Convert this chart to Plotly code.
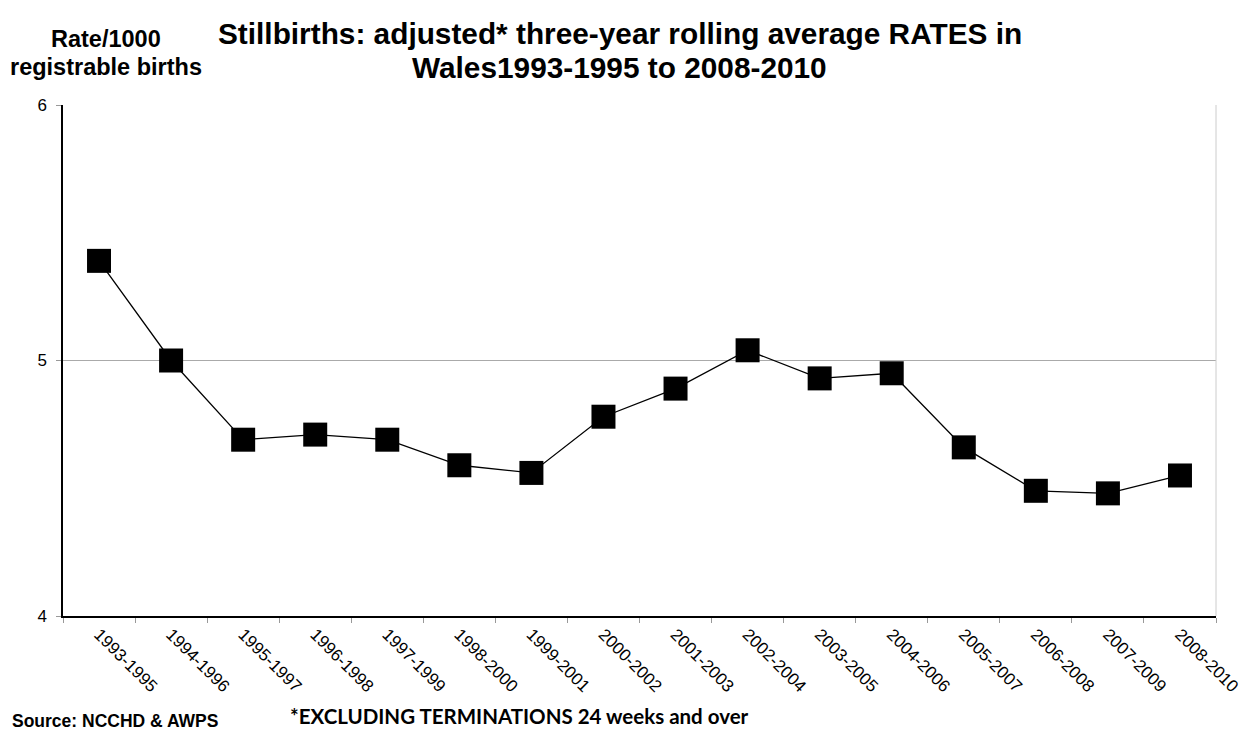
import plotly.graph_objects as go

periods = ["1993-1995", "1994-1996", "1995-1997", "1996-1998", "1997-1999",
           "1998-2000", "1999-2001", "2000-2002", "2001-2003", "2002-2004",
           "2003-2005", "2004-2006", "2005-2007", "2006-2008", "2007-2009",
           "2008-2010"]
rates = [5.39, 5.00, 4.69, 4.71, 4.69, 4.59, 4.56, 4.78, 4.89, 5.04,
         4.93, 4.95, 4.66, 4.49, 4.48, 4.55]
y_ticks = [4, 5, 6]

arial = "Arial, Liberation Sans, sans-serif"


def text_note(text, x, yref_y, shift, size, anchor="center", family=arial):
    return dict(text=text, xref="paper", yref="paper", x=x, y=yref_y,
                yshift=shift, xanchor=anchor, yanchor="middle",
                showarrow=False, font=dict(family=family, size=size))


fig = go.Figure()
fig.add_trace(go.Scatter(
    x=periods, y=rates, mode="lines+markers",
    line=dict(color="black", width=1.3),
    marker=dict(symbol="square", size=24, color="black"),
    showlegend=False, cliponaxis=False,
))

fig.update_layout(
    width=1242, height=734,
    margin=dict(l=63, r=26, t=105, b=118),
    paper_bgcolor="white", plot_bgcolor="white",
    font=dict(family=arial, color="black", size=17),
    xaxis=dict(
        type="category", range=[-0.5, 15.5], tickangle=45,
        tickson="boundaries", ticks="outside", ticklen=5, tickcolor="#999",
        showline=True, linecolor="black", linewidth=1.5,
        showgrid=False, mirror=False, automargin=False,
        tickfont=dict(family=arial, size=17),
    ),
    yaxis=dict(
        range=[4, 6], tickvals=y_ticks, ticks="outside", ticklen=5,
        tickcolor="#999", showline=True, linecolor="black", linewidth=1.5,
        showgrid=True, gridcolor="#aaaaaa", gridwidth=1, zeroline=False,
        automargin=False,
        tickfont=dict(family=arial, size=17), ticklabelstandoff=6,
    ),
    shapes=[dict(type="line", xref="paper", yref="paper", x0=1, x1=1,
                 y0=0, y1=1, line=dict(color="#cccccc", width=1))],
    annotations=[
        text_note("<b>Stillbirths: adjusted* three-year rolling average RATES in</b>",
                  0.483, 1, 72, 29.8),
        text_note("<b>Wales1993-1995 to 2008-2010</b>", 0.483, 1, 38, 29.8),
        text_note("<b>Rate/1000</b>", 0.037, 1, 66, 23.5),
        text_note("<b>registrable births</b>", 0.037, 1, 38, 23.5),
        text_note("<b>Source: NCCHD &amp; AWPS</b>", -0.046, 0, -105, 17.5,
                  anchor="left"),
        text_note("<b>*EXCLUDING TERMINATIONS 24 weeks and over</b>", 0.195, 0,
                  -100, 20.5, anchor="left",
                  family="Lato, Open Sans, sans-serif"),
    ],
)

fig.write_html("out.html")
